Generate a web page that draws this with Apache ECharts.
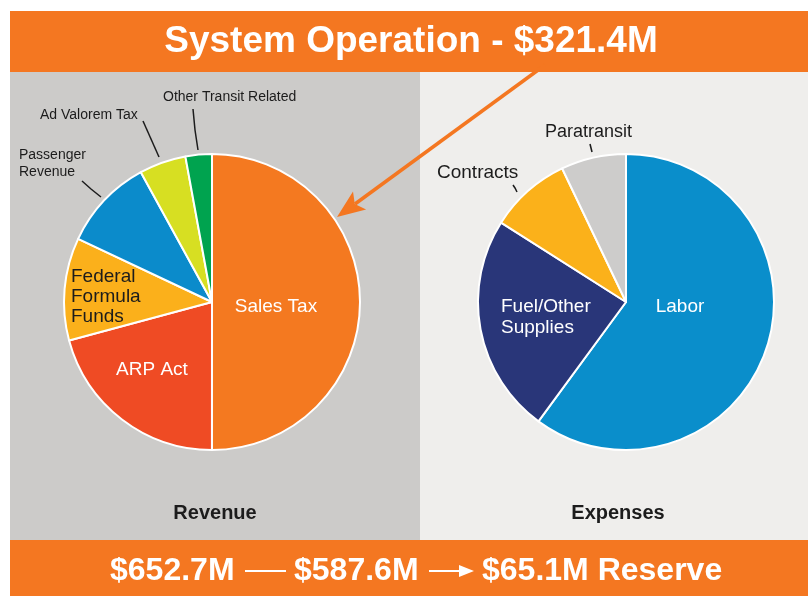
<!DOCTYPE html>
<html>
<head>
<meta charset="utf-8">
<script src="https://cdn.jsdelivr.net/npm/echarts@6/dist/echarts.min.js"></script>
<style>
html, body { margin: 0; padding: 0; background: #fff; }
#chart { width: 808px; height: 596px; }
</style>
</head>
<body>
<div id="chart"></div>
<script>
// revenue, $M
const revenueNames = ['Sales Tax', 'ARP Act', 'Federal\nFormula\nFunds', 'Passenger\nRevenue', 'Ad Valorem Tax', 'Other Transit Related']
const revenueValues = [326.4, 135.8, 73.1, 65.3, 33.3, 18.8]
const revenueColors = ['#f47920', '#ef4b24', '#fbb01b', '#0b8bcb', '#d7df22', '#00a34f']

// expenses, $M
const expenseNames = ['Labor', 'Fuel/Other\nSupplies', 'Contracts', 'Paratransit']
const expenseValues = [353.0, 140.6, 52.3, 41.7]
const expenseColors = ['#0a8ecb', '#293679', '#fbb11a', '#cdcccb']

const headline = 'System Operation - $321.4M'
const footParts = ['$652.7M', '$587.6M', '$65.1M Reserve']
const pieTitles = ['Revenue', 'Expenses']

const FONT = '"Liberation Sans", Arial, sans-serif'
const ORANGE = '#f47721'
const DARK = '#1c1c1c'

// where each label sits (and its leader line, if any)
const revenueLabels = [
  { x: 276, y: 307, align: 'center', color: '#fff', size: 19 },
  { x: 152, y: 370, align: 'center', color: '#fff', size: 19 },
  { x: 71, y: 297, align: 'left', color: DARK, size: 19, lh: 20 },
  { x: 19, y: 164, align: 'left', color: DARK, size: 14, lh: 17, line: [[82, 181], [91, 189], [101, 197]] },
  { x: 40, y: 115, align: 'left', color: DARK, size: 14, line: [[143, 121], [151, 139], [159, 157]] },
  { x: 163, y: 97, align: 'left', color: DARK, size: 14, line: [[193, 109], [195, 130], [198, 150]] }
]
const expenseLabels = [
  { x: 680, y: 307, align: 'center', color: '#fff', size: 19 },
  { x: 501, y: 317, align: 'left', color: '#fff', size: 19, lh: 21 },
  { x: 437, y: 173, align: 'left', color: DARK, size: 19, line: [[513, 185], [515, 188], [517, 192]] },
  { x: 545, y: 132, align: 'left', color: DARK, size: 18, line: [[590, 144], [591, 148], [592, 152]] }
]

function buildData(names, values, colors, labels) {
  return names.map((n, i) => ({
    name: n,
    value: values[i],
    itemStyle: { color: colors[i] },
    label: {
      color: labels[i].color, fontSize: labels[i].size,
      lineHeight: labels[i].lh || labels[i].size + 2, fontFamily: FONT
    },
    labelLine: { show: !!labels[i].line }
  }))
}

function pieSeries(center, names, values, colors, labels) {
  return {
    type: 'pie',
    center: center,
    radius: 148,
    startAngle: 90,
    clockwise: true,
    avoidLabelOverlap: false,
    silent: true,
    itemStyle: { borderColor: '#fff', borderWidth: 2 },
    label: { show: true, position: 'outside', formatter: '{b}' },
    labelLine: { show: true, lineStyle: { color: DARK, width: 1.5 } },
    labelLayout: function (params) {
      const p = labels[params.dataIndex]
      const out = { x: p.x, y: p.y, align: p.align, verticalAlign: 'middle' }
      if (p.line) out.labelLinePoints = p.line
      return out
    },
    data: buildData(names, values, colors, labels)
  }
}

function whiteText(text, x, y, size, align) {
  return {
    type: 'text', z: 20, x: x, y: y,
    style: { text: text, fill: '#fff', font: 'bold ' + size + 'px ' + FONT, align: align, verticalAlign: 'middle' }
  }
}

const chart = echarts.init(document.getElementById('chart'), null, { renderer: 'canvas' })

const footY = 571
const arrowTip = [337, 217]

chart.setOption({
  animation: false,
  backgroundColor: '#fff',
  graphic: [
    { type: 'rect', z: -10, shape: { x: 10, y: 11, width: 798, height: 61 }, style: { fill: ORANGE } },
    { type: 'rect', z: -10, shape: { x: 10, y: 72, width: 410, height: 468 }, style: { fill: '#cccbc9' } },
    { type: 'rect', z: -10, shape: { x: 420, y: 72, width: 388, height: 468 }, style: { fill: '#efeeec' } },
    { type: 'rect', z: -10, shape: { x: 10, y: 540, width: 798, height: 56 }, style: { fill: ORANGE } },
    whiteText(headline, 411, 42, 37, 'center'),
    // footer: amounts as text, the dash and the arrow as strokes
    whiteText(footParts[0], 110, footY, 32, 'left'),
    { type: 'line', z: 20, shape: { x1: 245, y1: footY, x2: 286, y2: footY }, style: { stroke: '#fff', lineWidth: 2 } },
    whiteText(footParts[1], 294, footY, 32, 'left'),
    { type: 'line', z: 20, shape: { x1: 429, y1: footY, x2: 464, y2: footY }, style: { stroke: '#fff', lineWidth: 2 } },
    { type: 'polygon', z: 20, shape: { points: [[474, footY], [459, footY - 6], [459, footY + 6]] }, style: { fill: '#fff' } },
    whiteText(footParts[2], 482, footY, 32, 'left'),
    {
      type: 'text', z: 20, x: 215, y: 513,
      style: { text: pieTitles[0], fill: DARK, font: 'bold 20px ' + FONT, align: 'center', verticalAlign: 'middle' }
    },
    {
      type: 'text', z: 20, x: 618, y: 513,
      style: { text: pieTitles[1], fill: DARK, font: 'bold 20px ' + FONT, align: 'center', verticalAlign: 'middle' }
    },
    // arrow from the headline into the Sales Tax slice
    {
      type: 'line', z: 15, shape: { x1: 545, y1: 65, x2: 355, y2: 204 },
      style: { stroke: ORANGE, lineWidth: 3.5 }
    },
    {
      type: 'polygon', z: 15,
      shape: { points: [arrowTip, [353, 191.6], [354.8, 204], [366.1, 209.4]] },
      style: { fill: ORANGE }
    }
  ],
  series: [
    pieSeries([212, 302], revenueNames, revenueValues, revenueColors, revenueLabels),
    pieSeries([626, 302], expenseNames, expenseValues, expenseColors, expenseLabels)
  ]
})

window.addEventListener('resize', () => chart.resize())
</script>
</body>
</html>
